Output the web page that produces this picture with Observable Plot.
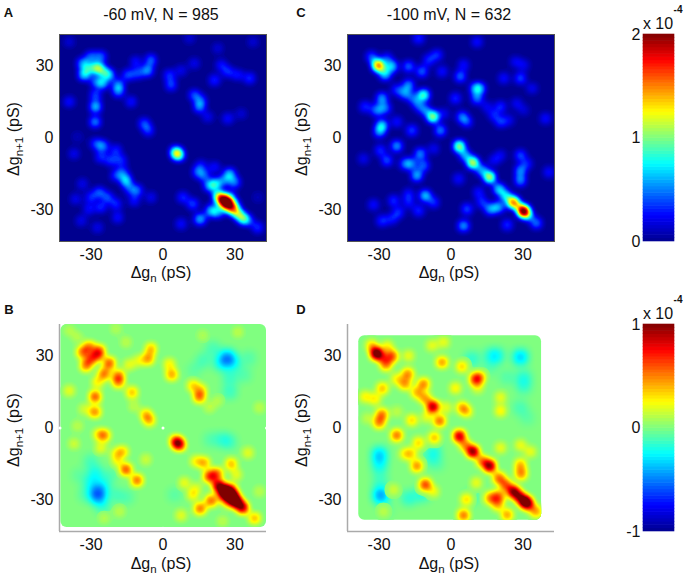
<!DOCTYPE html>
<html>
<head>
<meta charset="utf-8">
<script src="https://cdn.jsdelivr.net/npm/d3@7"></script>
<script src="https://cdn.jsdelivr.net/npm/@observablehq/plot@0.6"></script>
<style>
  body { margin: 0; background: #fff; }
  #chart { position: relative; width: 686px; height: 581px; overflow: hidden; font-family: "Liberation Sans", sans-serif; color: #111; }
  #chart svg { position: absolute; }
  .t { position: absolute; white-space: nowrap; transform: translate(-50%, -50%); line-height: 1; }
  .t sub { font-size: 0.72em; line-height: 0; }
</style>
</head>
<body>
<div id="chart"></div>
<script>
// [dg_n, dg_n+1, value in units of 1e-4]
const peaksA = [
  [-27.2,29,.95],[-32.8,26.2,.6],[-33.5,31,.45],[-30,33.8,.4],[-25.8,33.8,.4],[-31,29,.5],[-24.4,27.5,.45],[-22.3,26.2,.5],
  [-25,22.7,.55],[-28,23.4,.35],[-18.5,22,.45],[-18.5,19.2,.4],[-28,17.8,.35],[-28,12.9,.6],[-28.2,6.6,.45],[-39,15,.25],
  [-14.6,26.2,.35],[-10.5,26.9,.35],[-6.3,28,.5],[-4.9,32.4,.4],[-11.2,31.7,.25],[-13.2,15,.25],[-7.7,5.9,.35],[-6,3,.3],
  [2.8,26.2,.3],[3.5,22,.35],[13.2,17.8,.35],[15.3,12.9,.45],[16,15.7,.3],[21.6,24,.3],[27.2,27.5,.3],[31.4,26.2,.25],
  [36.3,24.8,.3],[24.4,30.3,.25],[18.8,8.7,.2],[27.2,8,.25],[7.7,28,.2],[13.2,31,.2],[23,37.3,.15],[37.7,40,.15],
  [-39,40,.15],[11.2,41.5,.15],[32.8,10,.15],
  [5.5,-6,.7],[6.6,-7.3,.7],
  [23,-24.2,.7],[25.1,-25.6,1],[27.2,-27.3,1.3],[29.3,-29.8,1],[31.7,-31.9,.7],[33.9,-34,.7],
  [24.5,-27,.4],[28,-24.5,.4],[26,-29.5,.35],[30,-27.5,.3],
  [22.3,-19.3,.6],[19.5,-20,.5],[27.9,-15.1,.55],[30,-18.6,.45],[25.8,-17.9,.35],[14.6,-14.4,.35],[17.4,-15.8,.35],
  [20.2,-30.5,.55],[23,-31.2,.4],[15.6,-34,.55],[12.6,-27.7,.35],[8.4,-24.9,.3],[7.7,-36,.25],[39.7,-37.5,.3],
  [36.3,-34.7,.2],[39.7,-24.9,.1],[16,-11.6,.25],[21.6,-12.3,.25],
  [-25,-3.5,.45],[-28,-2.5,.3],[-37,-6.7,.2],[-25.8,-8.1,.3],[-19.5,-5.3,.3],[-21.6,-9.5,.3],[-17.4,-9.5,.3],
  [-15.3,-17.9,.6],[-16.7,-14.4,.35],[-19.5,-15.8,.3],[-10.7,-22,.4],[-13.9,-21.4,.3],[-26.5,-22.8,.35],[-23,-24.9,.35],
  [-30,-24.9,.3],[-33.5,-19.3,.2],[-36.3,-25.6,.2],[-25.8,-29,.3],[-19.5,-27.7,.3],[-30.7,-29.8,.25],[-27.2,-37.5,.2],
  [-34,-34.7,.2],[-18.8,-33.3,.25],[-11.9,-26.3,.25],[-4.9,-24.9,.2],[-35.6,.3,.1]
]
const peaksC = [
  [-30.5,30.3,1.15],[-33,33.8,.35],[-24.5,29.7,.6],[-27.3,26.2,.5],[-26.6,33,.3],[-28.7,29,.4],
  [-17.6,29.7,.4],[-12,27.6,.4],[-9.2,32.4,.3],[-5.7,34.5,.3],[-13.4,41.5,.3],[11,40,.25],[-3.6,27.6,.25],[4,25.5,.4],[5.4,30.3,.25],
  [-17.6,22,.45],[-19,18.5,.45],[-11.3,17.8,.8],[-15.5,16.4,.35],[-22.5,20,.3],[-13.4,13.6,.35],[-10.6,11.5,.4],[-7.4,8.7,.95],
  [-28.7,16.4,.5],[-30.8,11.5,.45],[-27.3,12.2,.4],[-35.7,12.9,.3],[-28.7,5.2,.6],[-29.7,2.4,.45],[-22.5,6.6,.25],[-16.2,3,.35],
  [-4.3,3,.45],[-2.9,10,.2],[2,16.4,.3],[4.7,8.7,.4],[6.8,6.6,.3],
  [10.3,20.6,.45],[12.4,20.6,.4],[11,16.4,.45],[20.8,12.9,.3],[20.8,6.6,.3],[24.3,7.3,.2],[18,9.4,.25],[15.2,12.9,.2],[29.1,24.8,.35],
  [22.2,24.8,.25],[27,31.7,.2],[30.5,30.3,.2],[34,20.6,.2],[39.6,8,.25],[27.5,14.3,.2],[30.5,11.5,.15],
  [3.6,-3.6,.95],[6.1,-7.4,.5],[9.3,-10.5,1.05],[13.1,-13.7,.5],[16.3,-16.5,1],[20.1,-21.4,.6],[22.9,-24.2,.6],[26.1,-27,1.35],
  [28.9,-29,.4],[30.5,-30.8,1.75],[32.6,-32.6,.4],[35.8,-35.7,.4],
  [29.1,-7.4,.35],[31.9,-10.9,.25],[29.1,-13.7,.45],[29.1,-17.9,.45],[16.6,-29.8,.5],[20.1,-29,.5],[13.1,-27,.3],[6.8,-29.8,.35],
  [5.4,-36.8,.5],[23.6,-36.4,.3],[18,-9.5,.2],[20.8,-7.4,.2],[3.3,-17.2,.25],[11.7,-22.8,.25],[41,-14.4,.25],
  [-22.5,-3.5,.5],[-29.4,-5.3,.3],[-36.4,-8.8,.2],[-26.6,-9.5,.35],[-19,-10.9,.4],[-16.2,-10.9,.4],[-12.7,-6.7,.45],[-11.3,-11.6,.4],
  [-14.1,-15.8,.55],[-17.6,-23.5,.25],[-10.6,-24.2,.6],[-7.1,-27,.3],[-13.4,-30.5,.3],[-23.8,-26.3,.3],[-21.8,-31.2,.3],[-32.2,-28,.25],
  [-28.7,-34.7,.3],[-24.5,-34,.25],[-17.6,-27,.25],[-7.1,-4.6,.2]
]
const peaksB = [
  [23,-24,.7],[25.5,-26,.9],[28,-28,.9],[30,-30.5,.8],[31.5,-31.5,.5],[33.5,-33.5,.7],
  [25,-28.5,.4],[28.5,-25.5,.4],[30,-28,.3],[27,-31,.3],
  [5.6,-5.7,.6],[7,-7.2,.6],
  [-30.7,33.6,.45],[-33.5,31.5,.45],[-26.5,32.2,.45],[-30,28.7,.45],[-27.2,30,.4],[-32,25.9,.45],[-22.3,26.9,.55],[-24.4,22.4,.5],
  [-18.5,21.7,.45],[-18.5,18.9,.4],[-28.2,12.9,.55],[-27.2,18.9,.25],[-28.3,6.6,.45],[-39,15.4,.2],[-12.8,14.7,.35],[-14,26.3,.2],
  [-9.8,28,.2],[-6,28.7,.4],[-4.9,32.9,.35],[-39,40.6,.1],[-35.6,37.8,.1],[-19.5,41.3,.1],[-15.3,35.7,.12],[-7,5.6,.3],[-5.6,3,.35],
  [-32.8,7.7,.15],[-12,9,.12],
  [2.8,26.6,.25],[3.8,22.1,.4],[12.6,17.5,.3],[15.3,12.9,.5],[16,16,.25],[19.5,8.4,.12],[23,11.2,.1],[40.4,8.4,.12],[31.4,39.9,.12],[16.7,38.5,.1],
  [-24.4,-3.2,.45],[-27,-2.8,.2],[-37,-6.7,.15],[-25.8,-8.4,.2],[-19.5,-10.8,.2],[-16.7,-10,.3],[-15.3,-17.5,.55],[-10.7,-22,.5],
  [-18.8,-14,.2],[-7,-13.3,.15],[-35.6,.7,.12],[-18,-35,.12],[-24.4,-37.8,.1],
  [19.5,-20.3,.6],[22.7,-19.3,.5],[17.4,-14.7,.35],[13.9,-14,.25],[28.6,-15.1,.35],[30.7,-19.6,.2],[20.2,-30.5,.5],[15.6,-33.8,.5],
  [12.6,-28,.25],[9,-23,.2],[7.7,-36.6,.2],[38.4,-37.8,.35],[35.6,-10.5,.2],[40.4,-26.6,.12],[25,-39,.12],[14,-25,.15]
]
const dipsB = [
  [27,29,.2],[24.5,27,.2],[29.5,27,.18],[27,30,.14],[28,15,.12],[28,21,.12],[17,28,.1],[21,33,.1],[13,24,.06],[36,29,.08],[34,22,.08],
  [25,-5,.12],[28,-6,.1],[20,-5,.08],
  [-27,-27,.3],[-27,-29,.25],[-28,-19,.17],[-30,-23,.16],[-25,-24,.14],[-32,-28,.1],[-20,-28,.1],[-15,-29,.08],[-30,-14,.1],[-25,-33,.12],
  [-22,-20,.08],[-35,-20,.06],[5,-28,.07]
]
const peaksD = [
  [3.6,-3.5,.8],[6.1,-7.3,.4],[9.3,-10,.9],[13.1,-14,.45],[16.3,-16,.9],[20.1,-21,.5],[22.9,-23.8,.5],[26.1,-26.6,.85],[28.5,-28.7,.6],
  [31,-30.8,.95],[32.6,-32.2,.5],[35.7,-35,.4],
  [-31,31,1],[-33,34.3,.3],[-24.5,29.8,.55],[-27,26.3,.45],[-26.4,33.8,.25],[-28.3,29.4,.35],
  [-17.6,30,.2],[-17.9,22.4,.45],[-19,18.2,.4],[-22.5,20.3,.25],[-11.3,18.2,.45],[-14.1,14.7,.35],[-10.6,12.3,.4],[-7.4,8.7,.85],
  [-3.6,27.3,.4],[-7.8,34.3,.2],[-2.9,35.7,.2],[2,16.5,.25],[4.7,25.5,.3],[10.3,20.3,.55],[12.4,21,.3],[11.3,16.8,.2],
  [-28.5,16.4,.35],[-35.7,12.9,.25],[-31.5,11.9,.25],[-28.7,5.6,.45],[-29.8,2.1,.45],[-16.2,3.1,.3],[-9.9,4.5,.2],[-4.6,2.8,.5],[-2,8.4,.2],
  [4.7,8.4,.35],[6.8,6.7,.25],[20.8,12.6,.2],[20.8,7,.25],[-22.5,6.7,.12],[-34.7,3.9,.12],
  [-22.5,-3.2,.5],[-13.4,-6.3,.3],[-6.8,-4.2,.35],[-19,-10.9,.25],[-16.2,-10.9,.25],[-14.1,-16,.45],[-10.6,-23.8,.6],[-7.1,-26.6,.2],
  [-23.8,-25.9,.15],[-28,-35,.12],
  [16.6,-29.4,.45],[20.1,-28.7,.5],[19.7,-32.2,.35],[6.6,-30,.3],[5.4,-36.6,.5],[23.6,-36.4,.4],[29.1,-15.4,.35],[29.4,-19.3,.45],
  [29.1,-7.3,.2],[33.3,-10,.2],[20.8,-8.4,.2],[10.7,-23,.2]
]
const dipsD = [
  [29.1,29.4,.3],[19.4,30,.18],[16.6,30,.12],[8.9,28.7,.15],[30.5,21,.15],[30.5,17,.12],[29,8.4,.1],[16.6,25,.07],[23.6,21,.08],
  [-29.7,-11.2,.3],[-29.7,-16,.2],[-29.2,-28.3,.4],[-29.4,-22.4,.12],[-7,-9.8,.15],[-8.5,-13,.08],[-17.6,-29.4,.15],[-12,-28,.15],
  [-5.7,-15,.07],[-27,-34,.06],[8.9,-29,.1],[32,4,.06]
]
const ticks = [-30, 0, 30]
const notchesB = [[0, 0], [-43, 0], [0, -41.8], [43.2, 0]]
const boxB = [-42.6, 43.2, -41.5, 43.2]
const boxD = [-38.5, 37.8, -38.5, 38.5]
const jetStops = [0, .125, .375, .625, .875, 1]
const jetColors = ['#00008f', '#0000ff', '#00ffff', '#ffff00', '#ff0000', '#800000']

const lim = 43.2
const S = 3 // density layers are drawn 3x and shrunk, its grid is 4 px
const bwPeak = 3.7 * S
const bwDip = 5 * S
const chart = d3.select('#chart')
const plotStyle = { background: 'transparent', fontSize: '16px', fontFamily: '"Liberation Sans", sans-serif', color: '#111' }
const W = 59 + 207 + 5
const H = 34 + 207 + 30
const mapSize = { width: W, height: H, marginLeft: 59, marginRight: 5, marginTop: 34, marginBottom: 30 }
const bigSize = Object.fromEntries(Object.entries(mapSize).map(([k, v]) => [k, v * S]))
const hidden = { domain: [-lim, lim], axis: null }

const density = (data, bw) => Plot.density(data, {
  x: d => d[0], y: d => d[1], weight: d => d[2],
  bandwidth: bw, thresholds: 80, fill: 'density', stroke: 'none', clip: true,
})
// density of one peak of weight 1, so the weights stay in colour bar units
function unit(bw) {
  const probe = Plot.plot({ ...bigSize, x: hidden, y: hidden, marks: [density([[3.1, 3.7, 1]], bw)] })
  return probe.scale('color').domain[1]
}
const uPeak = unit(bwPeak)
const uDip = unit(bwDip)

function place(svg, left, top) {
  d3.select(svg).style('left', left + 'px').style('top', top + 'px')
  chart.append(() => svg)
  return svg
}
function label(html, x, y, style) {
  chart.append('div').attr('class', 't').attr('style', `left:${x}px;top:${y}px;${style}`).html(html)
}
// frame of a map is 207 x 207 px at (left, top)
function axesLayer(left, top, marks, withAxes) {
  const axis = pad => ({ domain: [-lim, lim], ticks, tickSize: 0, tickPadding: pad, label: null, tickFormat: String })
  place(Plot.plot({
    ...mapSize, style: plotStyle,
    x: withAxes ? axis(7) : hidden,
    y: withAxes ? axis(6) : hidden,
    marks,
  }), left - 59, top - 34)
}
function densityLayer(left, top, data, bw, color, box) {
  const svg = Plot.plot({ ...bigSize, style: { background: 'transparent' }, x: hidden, y: hidden, color, marks: [density(data, bw)] })
  d3.select(svg).style('width', W + 'px').style('height', H + 'px').style('max-width', 'none')
  if (box) {
    const k = 207 / (2 * lim)
    d3.select(svg).style('clip-path', `inset(${34 + (lim - box[3]) * k}px ${W - 59 - (box[1] + lim) * k}px ${H - 34 - (lim - box[2]) * k}px ${59 + (box[0] + lim) * k}px round 6px)`)
  }
  place(svg, left - 59, top - 34)
}
const jetScale = {
  type: 'linear', clamp: true,
  domain: jetStops.map(t => t * 2 * uPeak),
  range: jetColors,
}
const posScale = {
  type: 'linear', clamp: true,
  domain: [0, .25, .75, 1].map(v => v * uPeak),
  range: ['#80ff80', '#ffff00', '#ff0000', '#800000'],
}
const negScale = {
  type: 'linear', clamp: true,
  domain: [0, .25, .75, 1].map(v => v * uDip),
  range: ['#80ff80', '#00ffff', '#0000ff', '#00008f'],
}

function rawMap(left, top, peaks) {
  axesLayer(left, top, [Plot.frame({ fill: '#00008f' })], true)
  densityLayer(left, top, peaks, bwPeak, jetScale)
  axesLayer(left, top, [Plot.frame({ stroke: '#555' })], false)
}
function diffMap(left, top, peaks, dips, box, extra) {
  axesLayer(left, top, [
    Plot.ruleX([-lim], { stroke: '#aaa', strokeWidth: 1.5 }),
    Plot.ruleY([-lim], { stroke: '#aaa', strokeWidth: 1.5 }),
    Plot.rect([box], { x1: d => d[0], x2: d => d[1], y1: d => d[2], y2: d => d[3], fill: '#80ff80', rx: 6 }),
  ], true)
  densityLayer(left, top, dips, bwDip, negScale, box)
  densityLayer(left, top, peaks, bwPeak, posScale, box)
  if (extra.length) axesLayer(left, top, extra, false)
}

rawMap(59, 34, peaksA)
rawMap(347, 34, peaksC)
diffMap(59, 324, peaksB, dipsB, boxB, [
  Plot.dot(notchesB, { x: d => d[0], y: d => d[1], r: 1.5, fill: 'white' }),
])
diffMap(347, 324, peaksD, dipsD, boxD, [])

// colour bars
function colorbar(top, domain, barTicks, color) {
  const levels = d3.range(64)
  const step = (domain[1] - domain[0]) / 64
  const svg = Plot.plot({
    width: 40 + 31 + 2,
    height: 207 + 16,
    marginLeft: 40, marginRight: 2, marginTop: 8, marginBottom: 8,
    style: plotStyle,
    x: { domain: [0, 1], axis: null },
    y: { domain, ticks: barTicks, tickSize: 0, tickPadding: 3, label: null, tickFormat: String },
    color,
    marks: [
      Plot.rect(levels, {
        x1: 0, x2: 1,
        y1: i => domain[0] + i * step,
        y2: i => domain[0] + (i + 1) * step,
        fill: i => domain[0] + (i + .5) * step,
        inset: -0.3,
      }),
    ],
  })
  place(svg, 643 - 40, top - 8)
}
colorbar(34, [0, 2], [0, 1, 2], {
  type: 'linear', domain: jetStops.map(t => t * 2), range: jetColors,
})
colorbar(324, [-1, 1], [-1, 0, 1], {
  type: 'linear', domain: jetStops.map(t => t * 2 - 1), range: jetColors,
})

// text
const tick = 'font-size:16px;'
const title = 'font-size:16px;'
const letter = 'font-size:13px;font-weight:bold;'
label('-60 mV, N = 985', 161, 15, title)
label('-100 mV, N = 632', 449, 15, title)
label('A', 8.5, 12, letter)
label('C', 301, 12, letter)
label('B', 9, 309, letter)
label('D', 301, 309, letter)
for (const [cx, cy] of [[161, 273], [449, 273], [161, 564], [449, 564]]) {
  label('&Delta;g<sub>n</sub> (pS)', cx, cy, tick)
}
for (const [cx, cy] of [[14, 139], [302, 139], [14, 430], [302, 430]]) {
  label('&Delta;g<sub>n+1</sub> (pS)', cx, cy, tick + 'transform:translate(-50%,-50%) rotate(-90deg);')
}
for (const cy of [24, 314]) label('x 10', 658, cy, tick)
for (const cy of [10, 300]) label('-4', 678, cy, 'font-size:10px;font-weight:bold;')
</script>
</body>
</html>
